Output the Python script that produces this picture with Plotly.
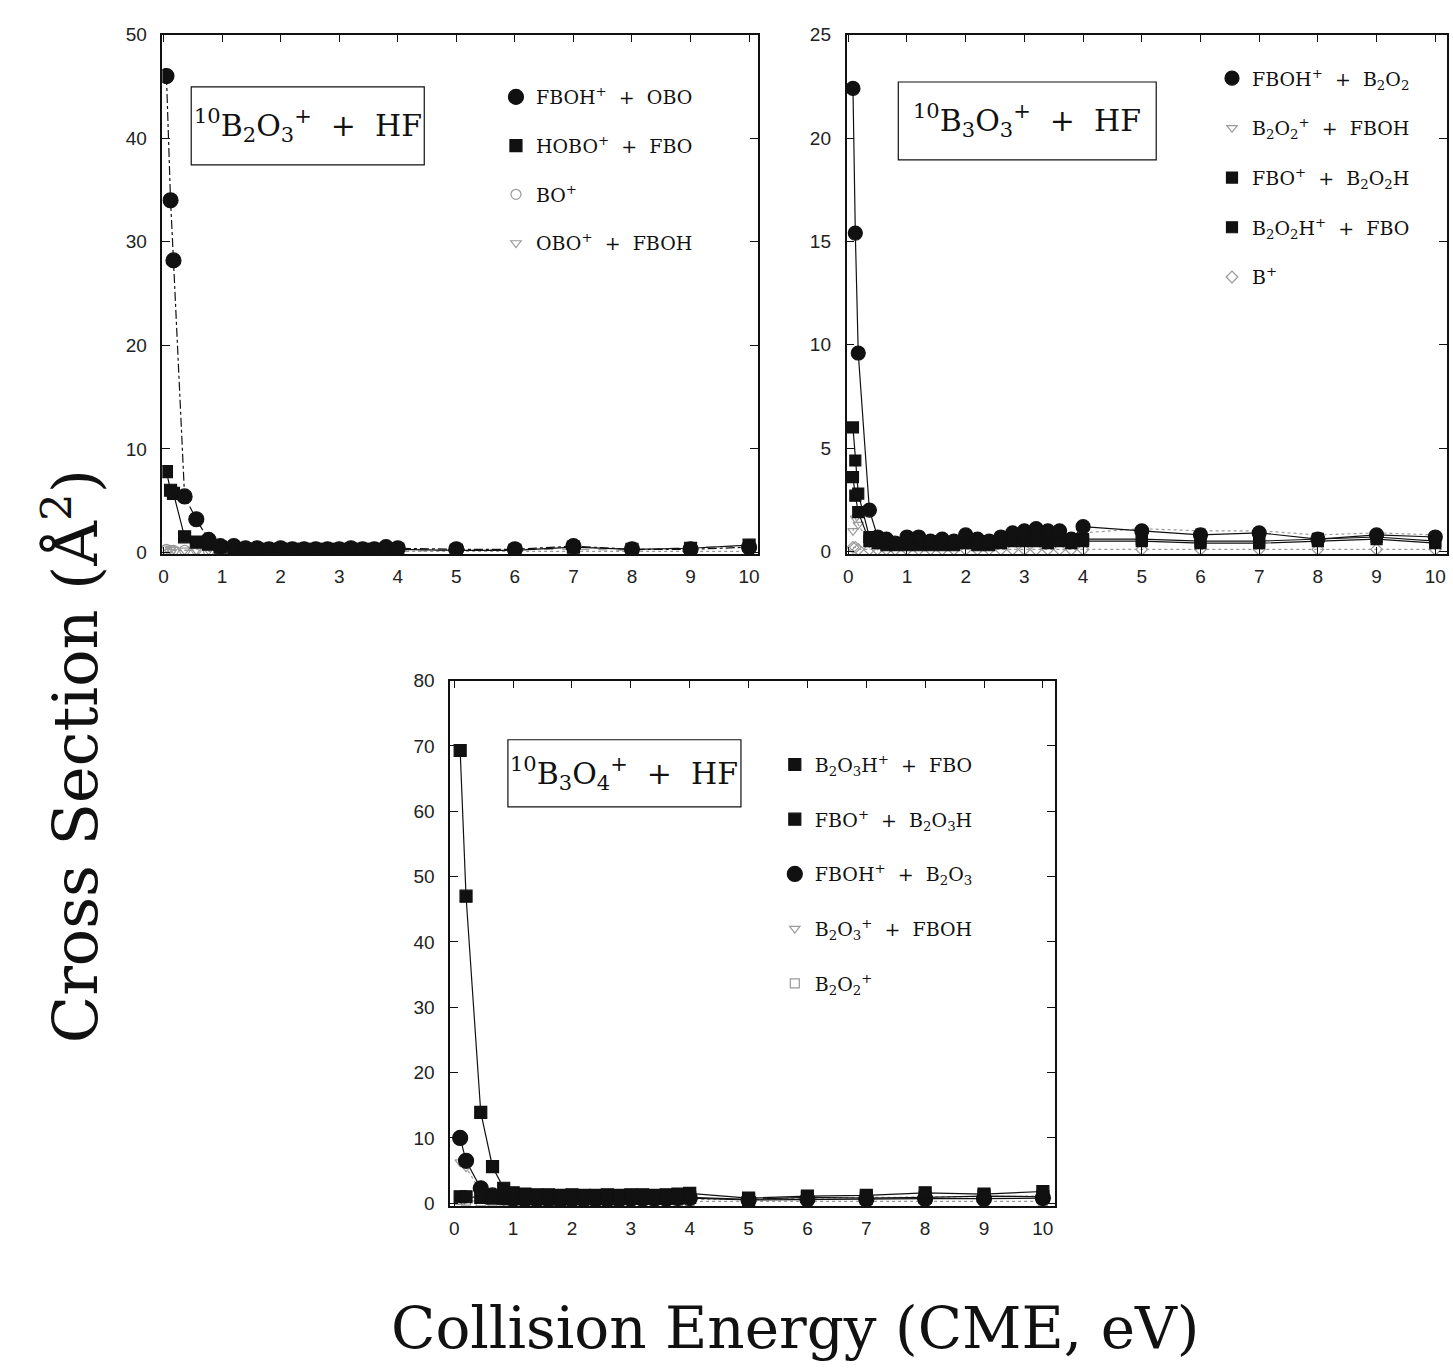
import plotly.graph_objects as go

W, H = 1453, 1372

# ---------------- Data ----------------
# Panel 1: 10B2O3+ + HF
E1 = [0.05, 0.12, 0.17, 0.36, 0.56, 0.77, 0.97, 1.2, 1.4, 1.6, 1.8, 2.0, 2.2, 2.4,
      2.6, 2.8, 3.0, 3.2, 3.4, 3.6, 3.8, 4.0, 5, 6, 7, 8, 9, 10]
p1_fboh = [46.0, 34.0, 28.2, 5.4, 3.2, 1.2, 0.6, 0.6, 0.4, 0.4, 0.3, 0.4, 0.3, 0.3,
           0.3, 0.3, 0.3, 0.4, 0.3, 0.3, 0.5, 0.4, 0.3, 0.3, 0.6, 0.3, 0.3, 0.5]
p1_hobo = [7.8, 6.0, 5.7, 1.5, 1.0, 0.8, 0.5, 0.4, 0.3, 0.3, 0.3, 0.3, 0.3, 0.3,
           0.3, 0.3, 0.3, 0.3, 0.3, 0.3, 0.3, 0.3, 0.2, 0.2, 0.5, 0.3, 0.4, 0.7]
p1_bo = [0.3, 0.2, 0.2, 0.2, 0.3, 0.1, 0.1, 0.1, 0.1, 0.1, 0.1, 0.1, 0.1, 0.1,
         0.1, 0.1, 0.1, 0.1, 0.1, 0.1, 0.1, 0.1, 0.1, 0.1, 0.1, 0.1, 0.1, 0.1]
p1_obo = [0.4, 0.3, 0.3, 0.2, 0.2, 0.2, 0.1, 0.1, 0.1, 0.1, 0.1, 0.1, 0.1, 0.1,
          0.1, 0.1, 0.1, 0.1, 0.1, 0.1, 0.1, 0.1, 0.2, 0.3, 0.3, 0.2, 0.5, 0.6]

# Panel 2: 10B3O3+ + HF
E2 = [0.08, 0.12, 0.17, 0.36, 0.5, 0.65, 0.8, 1.0, 1.2, 1.4, 1.6, 1.8, 2.0, 2.2,
      2.4, 2.6, 2.8, 3.0, 3.2, 3.4, 3.6, 3.8, 4.0, 5, 6, 7, 8, 9, 10]
p2_fboh = [22.4, 15.4, 9.6, 2.0, 0.7, 0.6, 0.4, 0.7, 0.7, 0.5, 0.6, 0.5, 0.8, 0.6,
           0.5, 0.7, 0.9, 1.0, 1.1, 1.0, 1.0, 0.6, 1.2, 1.0, 0.8, 0.9, 0.6, 0.8, 0.7]
p2_b2o2 = [1.0, 1.6, 1.3, 0.4, 0.3, 0.3, 0.3, 0.3, 0.3, 0.3, 0.3, 0.4, 0.4, 0.4,
           0.5, 0.6, 0.8, 0.8, 0.7, 0.7, 0.7, 0.7, 0.9, 1.1, 1.0, 1.0, 0.8, 0.9, 0.8]
p2_fbo = [6.0, 4.4, 2.8, 0.7, 0.5, 0.5, 0.4, 0.4, 0.4, 0.5, 0.4, 0.4, 0.5, 0.4,
          0.5, 0.5, 0.6, 0.6, 0.7, 0.6, 0.6, 0.5, 0.6, 0.6, 0.5, 0.5, 0.6, 0.7, 0.5]
p2_b2o2h = [3.6, 2.7, 1.9, 0.5, 0.4, 0.3, 0.3, 0.3, 0.3, 0.3, 0.3, 0.3, 0.4, 0.3,
            0.3, 0.4, 0.5, 0.5, 0.5, 0.4, 0.5, 0.4, 0.5, 0.5, 0.4, 0.4, 0.5, 0.6, 0.4]
p2_b = [0.2, 0.2, 0.1, 0.1, 0.1, 0.1, 0.1, 0.1, 0.1, 0.1, 0.1, 0.1, 0.1, 0.1,
        0.1, 0.1, 0.1, 0.1, 0.1, 0.1, 0.1, 0.1, 0.1, 0.1, 0.1, 0.1, 0.1, 0.1, 0.1]

# Panel 3: 10B3O4+ + HF
E3 = [0.1, 0.2, 0.45, 0.65, 0.84, 1.0, 1.2, 1.4, 1.6, 1.8, 2.0, 2.2, 2.4, 2.6,
      2.8, 3.0, 3.2, 3.4, 3.6, 3.8, 4.0, 5, 6, 7, 8, 9, 10]
p3_b2o3h = [69.3, 47.0, 13.9, 5.6, 2.3, 1.6, 1.4, 1.3, 1.3, 1.2, 1.3, 1.2, 1.2, 1.3,
            1.2, 1.3, 1.3, 1.2, 1.3, 1.4, 1.5, 0.8, 1.1, 1.2, 1.6, 1.4, 1.8]
p3_fbo = [1.0, 1.0, 0.9, 0.8, 0.8, 0.7, 0.7, 0.7, 0.7, 0.7, 0.7, 0.7, 0.7, 0.7,
          0.7, 0.8, 0.8, 0.8, 0.8, 0.8, 0.9, 0.6, 0.9, 0.8, 0.9, 1.1, 1.0]
p3_fboh = [10.0, 6.5, 2.3, 1.2, 0.9, 0.7, 0.6, 0.6, 0.6, 0.5, 0.6, 0.6, 0.6, 0.6,
           0.6, 0.7, 0.7, 0.7, 0.7, 0.8, 0.8, 0.5, 0.6, 0.6, 0.7, 0.7, 0.8]
p3_b2o3 = [6.3, 5.5, 1.8, 1.0, 0.8, 0.6, 0.5, 0.5, 0.5, 0.5, 0.5, 0.5, 0.5, 0.5,
           0.5, 0.6, 0.6, 0.6, 0.6, 0.6, 0.6, 0.6, 0.8, 0.9, 1.0, 1.0, 1.1]
p3_b2o2 = [0.5, 0.4, 0.3, 0.3, 0.3, 0.3, 0.3, 0.3, 0.3, 0.3, 0.3, 0.3, 0.3, 0.3,
           0.3, 0.3, 0.3, 0.3, 0.3, 0.3, 0.3, 0.3, 0.3, 0.3, 0.3, 0.3, 0.3]

x_ticks = [0, 1, 2, 3, 4, 5, 6, 7, 8, 9, 10]
y1_ticks = [0, 10, 20, 30, 40, 50]
y2_ticks = [0, 5, 10, 15, 20, 25]
y3_ticks = [0, 10, 20, 30, 40, 50, 60, 70, 80]

# ---------------- Figure ----------------
fig = go.Figure()

BLACK = "#111111"
GRAY = "#9a9a9a"

def px_x(p):
    return p / W

def px_y(p):
    return 1 - p / H

def add_series(xs, ys, name, axis, legend, rank, symbol, color, size, dash, lw=1.2):
    xa, ya = axis
    fig.add_trace(go.Scatter(
        x=xs, y=ys, mode="lines", xaxis=xa, yaxis=ya,
        line=dict(color=color, width=lw, dash=dash),
        showlegend=False, hoverinfo="skip"))
    fig.add_trace(go.Scatter(
        x=xs, y=ys, mode="markers", xaxis=xa, yaxis=ya, name=name,
        legend=legend, legendgroup=f"{legend}_{rank}", legendrank=rank,
        marker=dict(symbol=symbol, color=color, size=size,
                    line=dict(color=color, width=1.2))))

A1 = ("x", "y")
A2 = ("x2", "y2")
A3 = ("x3", "y3")
SP = "&nbsp;&nbsp;+&nbsp;&nbsp;"

# Panel 1 (drawn back-to-front; legend order set by rank)
add_series(E1, p1_obo, "OBO<sup>+</sup>" + SP + "FBOH", A1, "legend", 4, "triangle-down-open", GRAY, 9, "dash")
add_series(E1, p1_bo, "BO<sup>+</sup>", A1, "legend", 3, "circle-open", GRAY, 10, "dot")
add_series(E1, p1_hobo, "HOBO<sup>+</sup>" + SP + "FBO", A1, "legend", 2, "square", BLACK, 12, "solid")
add_series(E1, p1_fboh, "FBOH<sup>+</sup>" + SP + "OBO", A1, "legend", 1, "circle", BLACK, 15, "dashdot")

# Panel 2
add_series(E2, p2_b, "B<sup>+</sup>", A2, "legend2", 5, "diamond-open", GRAY, 9, "dot")
add_series(E2, p2_b2o2, "B<sub>2</sub>O<sub>2</sub><sup>+</sup>" + SP + "FBOH", A2, "legend2", 2, "triangle-down-open", GRAY, 9, "dot")
add_series(E2, p2_b2o2h, "B<sub>2</sub>O<sub>2</sub>H<sup>+</sup>" + SP + "FBO", A2, "legend2", 4, "square", BLACK, 11, "solid")
add_series(E2, p2_fbo, "FBO<sup>+</sup>" + SP + "B<sub>2</sub>O<sub>2</sub>H", A2, "legend2", 3, "square", BLACK, 11, "solid")
add_series(E2, p2_fboh, "FBOH<sup>+</sup>" + SP + "B<sub>2</sub>O<sub>2</sub>", A2, "legend2", 1, "circle", BLACK, 14, "solid")

# Panel 3
add_series(E3, p3_b2o2, "B<sub>2</sub>O<sub>2</sub><sup>+</sup>", A3, "legend3", 5, "square-open", GRAY, 9, "dot")
add_series(E3, p3_b2o3, "B<sub>2</sub>O<sub>3</sub><sup>+</sup>" + SP + "FBOH", A3, "legend3", 4, "triangle-down-open", GRAY, 9, "dot")
add_series(E3, p3_fboh, "FBOH<sup>+</sup>" + SP + "B<sub>2</sub>O<sub>3</sub>", A3, "legend3", 3, "circle", BLACK, 15, "solid")
add_series(E3, p3_fbo, "FBO<sup>+</sup>" + SP + "B<sub>2</sub>O<sub>3</sub>H", A3, "legend3", 2, "square", BLACK, 12, "solid")
add_series(E3, p3_b2o3h, "B<sub>2</sub>O<sub>3</sub>H<sup>+</sup>" + SP + "FBO", A3, "legend3", 1, "square", BLACK, 12, "solid")

tickfont = dict(family="Liberation Sans, Arial, sans-serif", size=19, color="#222")
common_axis = dict(showline=True, linecolor=BLACK, linewidth=1.5, mirror="ticks",
                   ticks="inside", ticklen=8, tickwidth=1.2, tickcolor=BLACK,
                   showgrid=False, zeroline=False, tickfont=tickfont)
xax = dict(common_axis, ticklabelstandoff=4)
yax = dict(common_axis, ticklabelstandoff=10)

fig.update_layout(
    width=W, height=H,
    margin=dict(l=0, r=0, t=0, b=0),
    paper_bgcolor="white", plot_bgcolor="white",
    xaxis=dict(domain=[px_x(159), px_x(757)], range=[-0.02, 10.15], tickvals=x_ticks,
               anchor="y", **xax),
    yaxis=dict(domain=[px_y(552), px_y(25)], range=[-0.19, 50], tickvals=y1_ticks,
               anchor="x", **yax),
    xaxis2=dict(domain=[px_x(846), px_x(1449)], range=[-0.03, 10.2], tickvals=x_ticks,
                anchor="y2", **xax),
    yaxis2=dict(domain=[px_y(552), px_y(25)], range=[-0.14, 25], tickvals=y2_ticks,
                anchor="x2", **yax),
    xaxis3=dict(domain=[px_x(448), px_x(1055)], range=[-0.07, 10.2], tickvals=x_ticks,
                anchor="y3", **xax),
    yaxis3=dict(domain=[px_y(1213), px_y(680)], range=[-0.45, 80], tickvals=y3_ticks,
                anchor="x3", **yax),
)

legfont = dict(family="DejaVu Serif, serif", size=19, color=BLACK)
leg_common = dict(font=legfont, bgcolor="rgba(0,0,0,0)", borderwidth=0,
                  traceorder="grouped", itemwidth=30,
                  xanchor="left", yanchor="top", valign="middle")
fig.update_layout(
    legend=dict(x=px_x(494), y=px_y(69), tracegroupgap=21, **leg_common),
    legend2=dict(x=px_x(1213), y=px_y(50), tracegroupgap=22, **leg_common),
    legend3=dict(x=px_x(774), y=px_y(746), tracegroupgap=27, **leg_common),
)

# Reaction labels in boxes
boxfont = dict(family="DejaVu Serif, serif", size=30, color=BLACK)
def box_label(text, x0, y0, x1, y1):
    fig.add_shape(type="rect", xref="paper", yref="paper",
                  x0=px_x(x0), x1=px_x(x1), y0=px_y(y1), y1=px_y(y0),
                  line=dict(color=BLACK, width=1.2))
    fig.add_annotation(text=text, xref="paper", yref="paper",
                       x=px_x((x0 + x1) / 2), y=px_y((y0 + y1) / 2),
                       xanchor="center", yanchor="middle", showarrow=False, font=boxfont)

box_label("<sup>10</sup>B<sub>2</sub>O<sub>3</sub><sup>+</sup>  +  HF", 188, 78, 422, 157)
box_label("<sup>10</sup>B<sub>3</sub>O<sub>3</sub><sup>+</sup>  +  HF", 898, 73, 1157, 152)
box_label("<sup>10</sup>B<sub>3</sub>O<sub>4</sub><sup>+</sup>  +  HF", 506, 740, 740, 808)

# Big axis titles
fig.add_annotation(text="Cross Section (Å<sup>2</sup>)", xref="paper", yref="paper",
                   x=px_x(68), y=px_y(757), textangle=-90, showarrow=False,
                   xanchor="center", yanchor="middle",
                   font=dict(family="DejaVu Serif, serif", size=62, color=BLACK))
fig.add_annotation(text="Collision Energy (CME, eV)", xref="paper", yref="paper",
                   x=px_x(795), y=px_y(1337), showarrow=False,
                   xanchor="center", yanchor="middle",
                   font=dict(family="DejaVu Serif, serif", size=58, color=BLACK))

fig.write_html("out.html")
